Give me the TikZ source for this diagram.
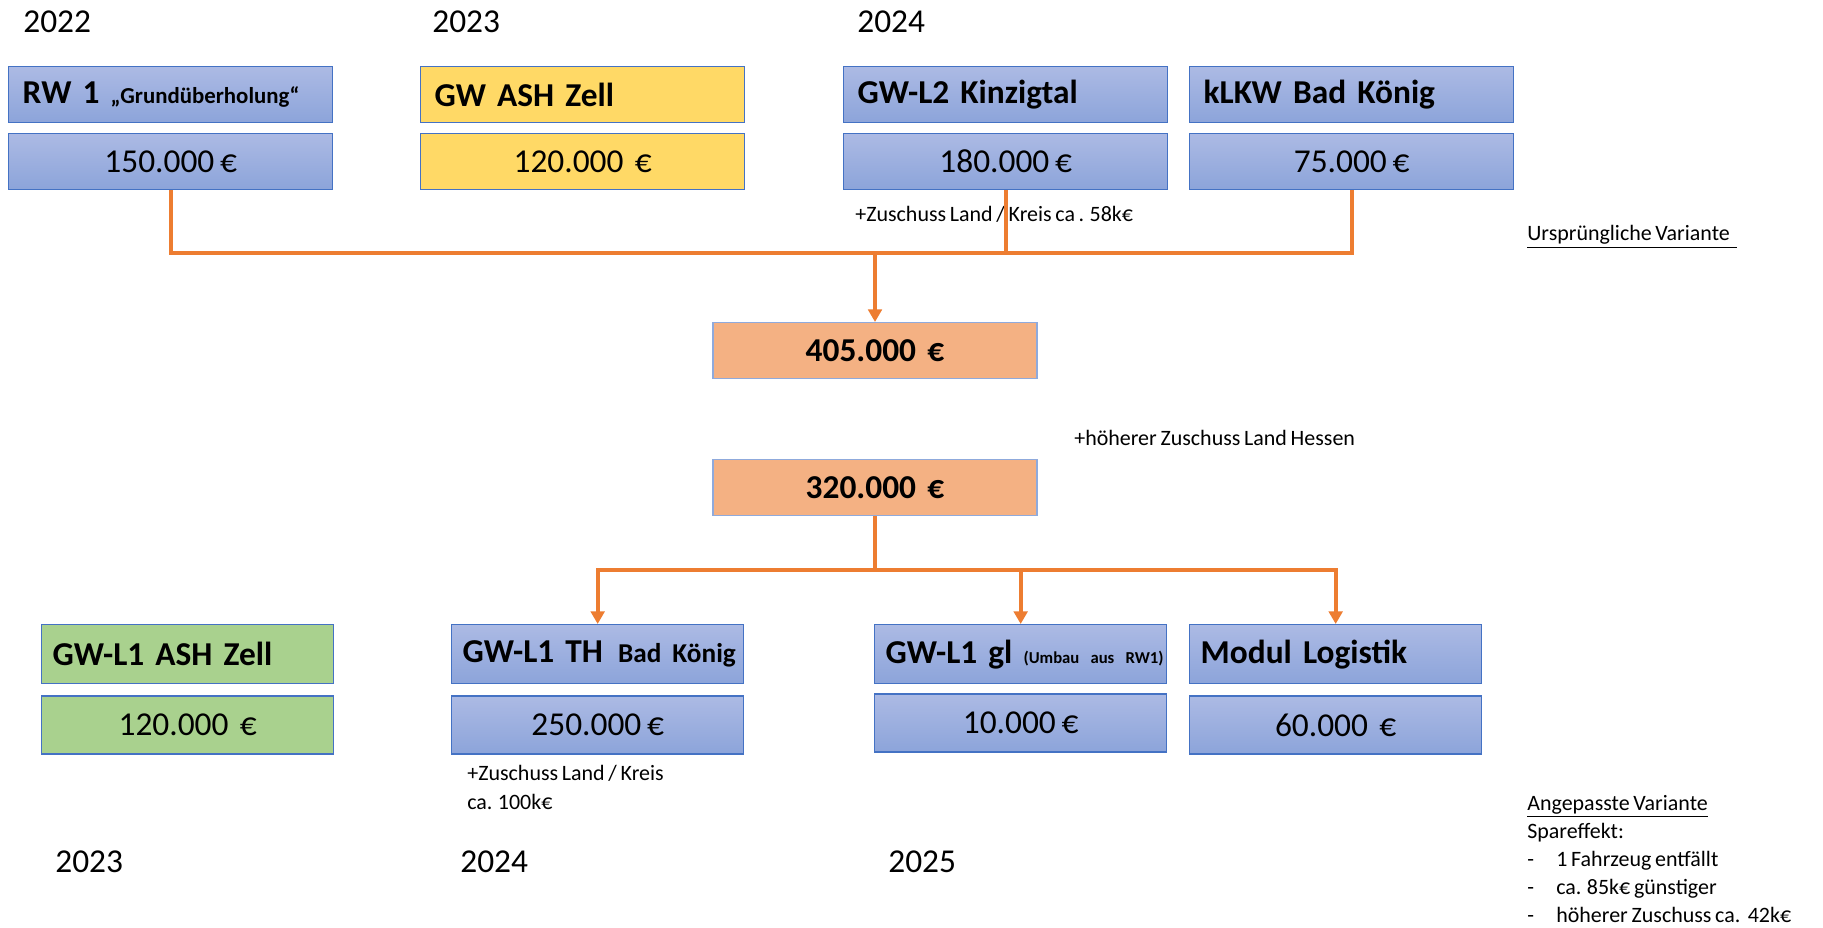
\documentclass[tikz,border=0pt]{standalone}
\usepackage{fontspec}
\setmainfont{Carlito}[WordSpace=0.75]
\usetikzlibrary{arrows.meta,positioning}
\definecolor{boxblueA}{RGB}{172,186,228}
\definecolor{boxblueB}{RGB}{140,164,218}
\definecolor{boxedge}{RGB}{68,114,196}
\definecolor{boxyellow}{RGB}{255,217,102}
\definecolor{boxgreen}{RGB}{169,209,142}
\definecolor{boxorange}{RGB}{244,177,131}
\definecolor{linkorange}{RGB}{237,125,49}
\newcommand{\bigfont}{\fontsize{19}{23}\selectfont}
\newcommand{\smallfont}{\fontsize{12.5}{16}\selectfont}

\begin{document}
\begin{tikzpicture}[
    x=0.02cm, y=-0.02cm,
    >={Triangle[width=0.27cm,length=0.25cm]},
    boxbase/.style={draw=boxedge, line width=0.8pt, inner sep=0pt, font=\bigfont},
    bluebox/.style={top color=boxblueA, bottom color=boxblueB},
    yellowbox/.style={fill=boxyellow},
    greenbox/.style={fill=boxgreen},
    tophead/.style={boxbase, text width=5.92cm, inner xsep=0.28cm, minimum height=1.12cm, align=left, font=\bigfont\bfseries},
    topval/.style={boxbase, minimum width=6.48cm, minimum height=1.12cm},
    lowhead/.style={boxbase, text width=5.4cm, inner xsep=0.22cm, minimum height=1.18cm, align=left, font=\bigfont\bfseries},
    lowval/.style={boxbase, minimum width=5.84cm, minimum height=1.16cm},
    sumbox/.style={boxbase, draw=boxedge!60, fill=boxorange, minimum width=6.48cm, minimum height=1.12cm, font=\bigfont\bfseries},
    link/.style={draw=linkorange, line width=0.08cm},
    yearlabel/.style={font=\bigfont, inner sep=0pt, anchor=west},
    notelabel/.style={font=\smallfont, inner sep=0pt, anchor=west, align=left},
]
\useasboundingbox (0,0) rectangle (1823,928);

% ============ YEARS ============
\node[yearlabel] (yr22) at (23,22) {2022};
\node[yearlabel] (yr23) at (432,22) {2023};
\node[yearlabel] (yr24) at (857,22) {2024};

% ============ ORIGINAL VEHICLES ============
\node[tophead, bluebox, anchor=north west] (rwhead) at (8,66) {RW 1 {\fontsize{13}{16}\selectfont „Grundüberholung“}};
\node[topval, bluebox, below=0.19cm of rwhead] (rwval) {150.000 €};

\node[tophead, yellowbox, anchor=north west] (ashhead) at (420,66) {GW ASH Zell};
\node[topval, yellowbox, below=0.19cm of ashhead] (ashval) {120.000\ \ €};

\node[tophead, bluebox, anchor=north west] (kinhead) at (843,66) {GW-L2 Kinzigtal};
\node[topval, bluebox, below=0.19cm of kinhead] (kinval) {180.000 €};

\node[tophead, bluebox, anchor=north west] (klkwhead) at (1189,66) {kLKW Bad König};
\node[topval, bluebox, below=0.19cm of klkwhead] (klkwval) {75.000 €};

\node[notelabel] (kinnote) at (855,214) {+Zuschuss Land / Kreis ca . 58k€};
\node[notelabel] (oldlbl) at (1527,237) {\underline{Ursprüngliche Variante\ \ }};

% ============ SUMS ============
\node[sumbox, anchor=north] (sumold) at (875,322) {405.000\ \ €};
\node[sumbox, anchor=north] (sumnew) at (875,459) {320.000\ \ €};
\node[notelabel] (hessnote) at (1074,438) {+höherer Zuschuss Land Hessen};

\path (sumold.north) ++(0,-69) coordinate (railold);
\draw[link] (rwval.south) |- (klkwval.south |- railold) -- (klkwval.south);
\draw[link] (kinval.south) -- (kinval.south |- railold);
\draw[link,->] (railold) -- (sumold.north);

% ============ ADAPTED VEHICLES ============
\node[lowhead, greenbox, anchor=north west] (ashlhead) at (41,624) {GW-L1 ASH Zell};
\node[lowval, greenbox, below=0.22cm of ashlhead] (ashlval) {120.000\ \ €};

\node[lowhead, bluebox, anchor=north west] (thhead) at (451,624) {\mbox{GW-L1 TH\hspace{0.45em}{\fontsize{15.5}{19}\selectfont Bad König}}};
\node[lowval, bluebox, below=0.22cm of thhead] (thval) {250.000 €};

\node[lowhead, bluebox, anchor=north west] (glhead) at (874,624) {\mbox{GW-L1 gl {\fontsize{9.5}{12}\selectfont (Umbau aus RW1)}}};
\node[lowval, bluebox, below=0.18cm of glhead] (glval) {10.000 €};

\node[lowhead, bluebox, anchor=north west] (modhead) at (1189,624) {Modul Logistik};
\node[lowval, bluebox, below=0.22cm of modhead] (modval) {60.000\ \ €};

\path (sumnew.south) ++(0,54) coordinate (railnew);
\draw[link] (sumnew.south) -- (railnew);
\draw[link,->] (railnew) -| (thhead.north);
\draw[link,->] (railnew) -| (glhead.north);
\draw[link,->] (railnew) -| (modhead.north);

\node[notelabel, font=\fontsize{12.5}{16.5}\selectfont] (thnote) at (467,787) {+Zuschuss Land / Kreis\\ca. 100k€};

\node[yearlabel] (yr23b) at (55,862) {2023};
\node[yearlabel] (yr24b) at (460,862) {2024};
\node[yearlabel] (yr25b) at (888,862) {2025};

% ============ SAVINGS ============
\node[notelabel] (newlbl) at (1527,859) {\underline{Angepasste Variante}\\
Spareffekt:\\
\makebox[0.58cm][l]{-}1 Fahrzeug entfällt\\
\makebox[0.58cm][l]{-}ca. 85k€ günstiger\\
\makebox[0.58cm][l]{-}höherer Zuschuss ca.\ \ 42k€};

\end{tikzpicture}
\end{document}
